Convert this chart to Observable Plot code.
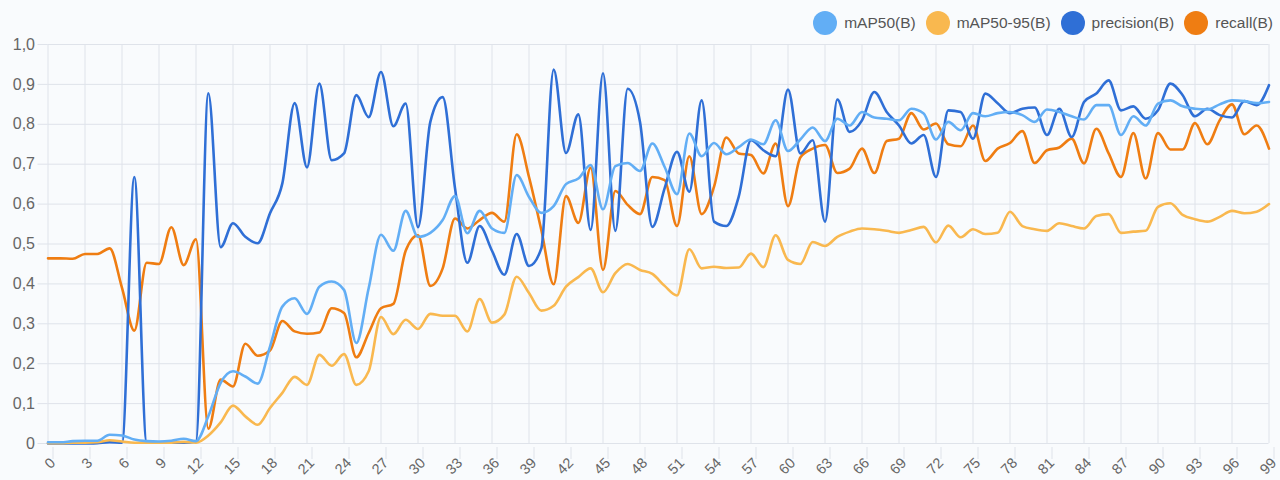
<!DOCTYPE html>
<html>
<head>
<meta charset="utf-8">
<script src="https://cdn.jsdelivr.net/npm/d3@7"></script>
<script src="https://cdn.jsdelivr.net/npm/@observablehq/plot@0.6"></script>
<style>
  html, body { margin: 0; padding: 0; background: #f9fbfd; }
  #wrap { position: relative; width: 1280px; height: 480px; font-family: "Liberation Sans", Arial, sans-serif; }
  #legend { position: absolute; top: 11px; right: 7px; display: flex; align-items: center; gap: 10px; font-size: 15.5px; color: #555; }
  .item { display: flex; align-items: center; gap: 7px; }
  .dot { width: 24px; height: 24px; border-radius: 50%; display: inline-block; }
</style>
</head>
<body>
<div id="wrap"><div id="legend"></div><div id="chart"></div></div>
<script>
const seriesNames = ["mAP50(B)", "mAP50-95(B)", "precision(B)", "recall(B)"];
const seriesColors = ["#62aef5", "#f9b84f", "#2f6fd6", "#ef7d12"];
const epochs = d3.range(0, 100);
const xTicks = d3.range(0, 100, 3);
const yTicks = [0, 0.1, 0.2, 0.3, 0.4, 0.5, 0.6, 0.7, 0.8, 0.9, 1.0];

const mAP50 = [0.003,0.003,0.006,0.007,0.007,0.022,0.02,0.01,0.006,0.005,
0.007,0.012,0.006,0.068,0.152,0.181,0.168,0.15,0.243,0.343,
0.364,0.325,0.393,0.406,0.385,0.252,0.389,0.523,0.483,0.583,
0.518,0.528,0.56,0.62,0.527,0.583,0.539,0.528,0.673,0.618,
0.578,0.595,0.65,0.664,0.698,0.587,0.695,0.703,0.683,0.752,
0.693,0.625,0.777,0.72,0.753,0.725,0.743,0.762,0.75,0.81,
0.733,0.762,0.792,0.758,0.814,0.797,0.831,0.817,0.814,0.81,
0.839,0.827,0.762,0.806,0.785,0.828,0.82,0.828,0.831,0.823,
0.806,0.837,0.831,0.82,0.812,0.848,0.848,0.773,0.82,0.797,
0.852,0.86,0.845,0.839,0.837,0.85,0.86,0.858,0.853,0.856];

const mAP50_95 = [0.001,0.001,0.002,0.002,0.003,0.008,0.005,0.002,0.002,0.002,
0.002,0.004,0.002,0.02,0.053,0.095,0.068,0.047,0.089,0.127,
0.167,0.147,0.222,0.195,0.224,0.147,0.181,0.317,0.274,0.31,
0.287,0.325,0.32,0.32,0.281,0.362,0.303,0.323,0.418,0.377,
0.333,0.345,0.393,0.417,0.439,0.379,0.427,0.45,0.435,0.425,
0.395,0.371,0.487,0.439,0.443,0.44,0.441,0.476,0.442,0.522,
0.46,0.45,0.505,0.495,0.518,0.531,0.539,0.537,0.533,0.528,
0.535,0.543,0.504,0.546,0.517,0.537,0.525,0.528,0.581,0.545,
0.537,0.533,0.552,0.545,0.539,0.57,0.575,0.528,0.531,0.533,
0.593,0.602,0.573,0.562,0.556,0.568,0.583,0.577,0.581,0.6];

const precision = [0,0,0,0,0.001,0.003,0.002,0.668,0.003,0.002,
0.002,0.002,0.005,0.878,0.492,0.552,0.518,0.502,0.577,0.652,
0.853,0.692,0.902,0.71,0.727,0.873,0.818,0.931,0.795,0.852,
0.542,0.806,0.868,0.64,0.453,0.545,0.483,0.423,0.525,0.445,
0.489,0.937,0.728,0.825,0.535,0.928,0.533,0.889,0.806,0.543,
0.64,0.731,0.631,0.86,0.556,0.545,0.618,0.76,0.735,0.72,
0.887,0.727,0.76,0.556,0.862,0.781,0.81,0.881,0.831,0.797,
0.752,0.773,0.668,0.835,0.831,0.764,0.877,0.853,0.828,0.839,
0.842,0.773,0.839,0.768,0.856,0.877,0.91,0.835,0.845,0.814,
0.835,0.902,0.873,0.82,0.839,0.823,0.817,0.858,0.848,0.898];

const recall = [0.464,0.464,0.463,0.475,0.475,0.489,0.39,0.283,0.453,0.45,
0.542,0.447,0.512,0.037,0.16,0.143,0.25,0.22,0.233,0.307,
0.281,0.275,0.278,0.339,0.327,0.216,0.277,0.339,0.35,0.483,
0.522,0.395,0.439,0.564,0.539,0.56,0.578,0.556,0.775,0.668,
0.535,0.399,0.62,0.553,0.691,0.435,0.633,0.598,0.575,0.668,
0.66,0.545,0.72,0.575,0.643,0.767,0.727,0.723,0.677,0.752,
0.595,0.717,0.739,0.748,0.678,0.689,0.739,0.678,0.758,0.764,
0.828,0.787,0.802,0.75,0.745,0.797,0.708,0.739,0.753,0.783,
0.703,0.735,0.742,0.764,0.702,0.789,0.727,0.668,0.778,0.664,
0.778,0.737,0.737,0.803,0.75,0.81,0.85,0.775,0.797,0.739];

const seriesValues = [mAP50, mAP50_95, precision, recall];
// draw order: recall at bottom, mAP50 on top
const drawOrder = [3, 2, 1, 0];
const rows = [];
for (const s of drawOrder) {
  epochs.forEach((e, i) => rows.push({epoch: e, value: seriesValues[s][i], series: seriesNames[s]}));
}

const gridColor = "#dfe3ea";
const fmtY = v => v === 0 ? "0" : d3.format(".1f")(v).replace(".", ",");

const chart = Plot.plot({
  width: 1280,
  height: 480,
  marginTop: 44,
  marginBottom: 37,
  marginLeft: 47.5,
  marginRight: 11.5,
  style: {background: "#f9fbfd", fontFamily: "Liberation Sans, Arial, sans-serif", fontSize: "15px", color: "#666"},
  x: {domain: [0, 99]},
  y: {domain: [0, 1]},
  color: {domain: seriesNames, range: seriesColors},
  marks: [
    Plot.gridX(xTicks, {stroke: gridColor, strokeOpacity: 1}),
    Plot.gridY(yTicks, {stroke: gridColor, strokeOpacity: 1}),
    Plot.axisY(yTicks, {tickSize: 10, stroke: gridColor, fill: "#666", tickPadding: 3, tickFormat: fmtY, label: null, fontSize: 16}),
    Plot.axisX(xTicks, {tickSize: 12, stroke: gridColor, fill: "#666", tickRotate: -45, tickPadding: 1, dx: 5, dy: 4, label: null, fontSize: 14.5}),
    Plot.line(rows, {x: "epoch", y: "value", z: "series", stroke: "series", strokeWidth: 2.6, curve: "monotone-x", strokeLinejoin: "round"})
  ]
});
document.getElementById("chart").appendChild(chart);

const legend = document.getElementById("legend");
seriesNames.forEach((n, i) => {
  const it = document.createElement("div");
  it.className = "item";
  const d = document.createElement("span");
  d.className = "dot";
  d.style.background = seriesColors[i];
  const t = document.createElement("span");
  t.textContent = n;
  it.appendChild(d); it.appendChild(t);
  legend.appendChild(it);
});
</script>
</body>
</html>
